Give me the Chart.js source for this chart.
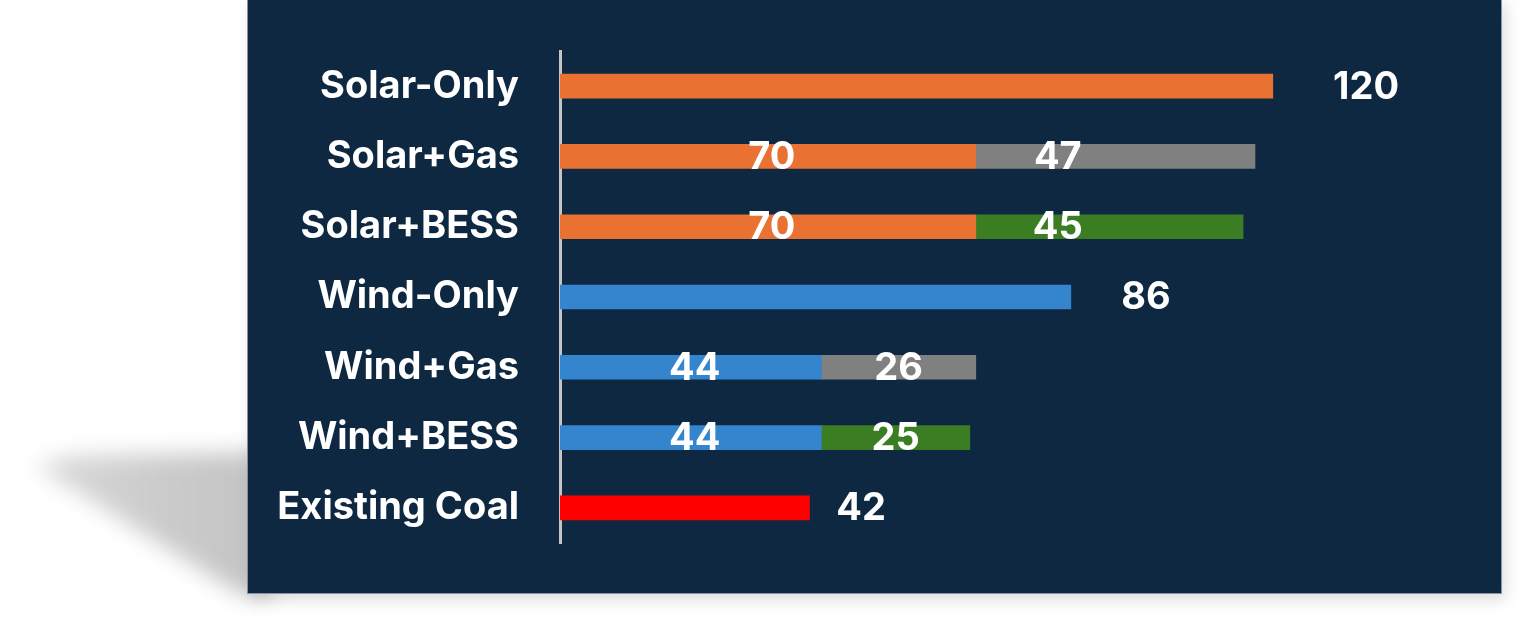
<!DOCTYPE html>
<html>
<head>
<meta charset="utf-8">
<script src="https://cdn.jsdelivr.net/npm/chart.js@4.4.1/dist/chart.umd.min.js"></script>
<style>
  html, body { margin:0; padding:0; background:#ffffff; width:1535px; height:627px; overflow:hidden; }
  #shadowWrap { position:absolute; left:0; top:0; width:1535px; height:627px; filter:blur(11px); }
  #shadow { position:absolute; left:0; top:0; width:1535px; height:627px;
    clip-path: polygon(36px 466px, 70px 456px, 270px 452px, 270px 598px, 240px 594px);
    background: linear-gradient(90deg, #dedede 0px, #cbcbcb 160px, #c4c4c4 260px); }
  #panel { position:absolute; left:247px; top:-3px; width:1253px; height:595px; background:#0E2841;
    border:1px solid #8593a6; box-shadow: 4px 6px 14px rgba(0,0,0,0.13); }
  #c { position:absolute; left:0; top:0; }
</style>
</head>
<body>
<div id="shadowWrap"><div id="shadow"></div></div>
<div id="panel"></div>
<canvas id="c" width="1535" height="627"></canvas>
<script>
const categories = ['Solar-Only','Solar+Gas','Solar+BESS','Wind-Only','Wind+Gas','Wind+BESS','Existing Coal'];
const solarValues = [120, 70, 70, null, null, null, null];
const windValues  = [null, null, null, 86, 44, 44, null];
const gasValues   = [null, 47, null, null, 26, null, null];
const bessValues  = [null, null, 45, null, null, 25, null];
const coalValues  = [null, null, null, null, null, null, 42];

const FONT = "Inter, 'Open Sans', sans-serif";

const labelPlugin = {
  id: 'barLabels',
  afterDatasetsDraw(chart) {
    const ctx = chart.ctx;
    const xs = chart.scales.x;
    ctx.save();
    ctx.fillStyle = '#ffffff';
    ctx.font = 'bold 38px ' + FONT;
    ctx.textAlign = 'center';
    ctx.textBaseline = 'middle';
    categories.forEach((cat, i) => {
      const segs = [];
      chart.data.datasets.forEach((ds, di) => {
        const v = ds.data[i];
        if (v !== null && v !== undefined) {
          segs.push({ v, el: chart.getDatasetMeta(di).data[i] });
        }
      });
      if (segs.length === 1) {
        const s = segs[0];
        const x = xs.getPixelForValue(s.v * 1.09 + 4.9);
        ctx.fillText(String(s.v), x, s.el.y + 1);
      } else {
        segs.forEach((s, k) => {
          const left = Math.min(s.el.x, s.el.base);
          const right = Math.max(s.el.x, s.el.base);
          const half = (right - left) / 2;
          const cx = k === 0 ? left + half + 4 : left + Math.min(half, 82);
          ctx.fillText(String(s.v), cx, s.el.y + 1);
        });
      }
    });
    ctx.restore();
  }
};

new Chart(document.getElementById('c'), {
  type: 'bar',
  data: {
    labels: categories,
    datasets: [
      { label: 'Solar', data: solarValues, backgroundColor: '#E97132' },
      { label: 'Wind',  data: windValues,  backgroundColor: '#3485CE' },
      { label: 'Gas',   data: gasValues,   backgroundColor: '#808080' },
      { label: 'BESS',  data: bessValues,  backgroundColor: '#3B7D23' },
      { label: 'Coal',  data: coalValues,  backgroundColor: '#FF0000' }
    ]
  },
  options: {
    indexAxis: 'y',
    responsive: false,
    devicePixelRatio: 1,
    animation: false,
    barThickness: 24,
    layout: { padding: { left: 0, right: 84, top: 51, bottom: 84 } },
    plugins: { legend: { display: false }, tooltip: { enabled: false } },
    scales: {
      x: { stacked: true, display: false, min: 0, max: 150 },
      y: {
        stacked: true,
        grid: { display: false, drawTicks: false },
        border: { display: true, color: '#c4c4c4', width: 3 },
        ticks: { color: '#ffffff', padding: 41, font: { family: FONT, weight: 'bold', size: 38 } },
        afterFit(scale) { scale.width = 560; scale.paddingTop = 0; scale.paddingBottom = 0; }
      }
    }
  },
  plugins: [labelPlugin]
});
</script>
</body>
</html>
